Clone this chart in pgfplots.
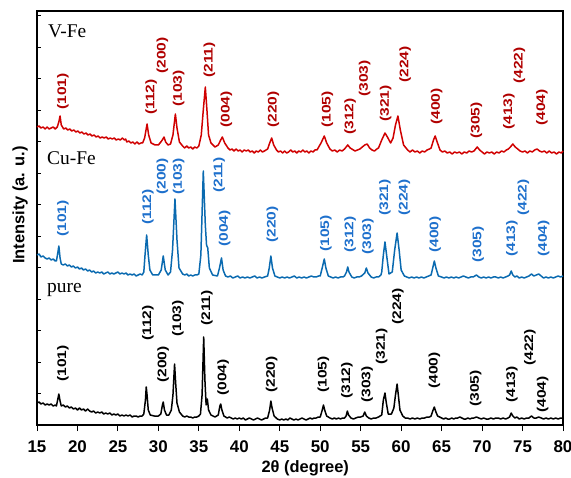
\documentclass[border=0pt]{standalone}
\usepackage{fontspec}
\setmainfont{Liberation Sans}
\newfontfamily\serif{Liberation Serif}
\usepackage{graphicx}
\usepackage{pgfplots}
\pgfplotsset{compat=1.18}

\definecolor{vfe}{HTML}{D00000}
\definecolor{vfetext}{HTML}{B00000}
\definecolor{cufe}{HTML}{0A6AB0}
\definecolor{cufetext}{HTML}{1E70CC}

\tikzset{pk/.style={rotate=90, anchor=west, inner sep=0pt,
    font=\bfseries\fontsize{12.5}{12.5}\selectfont}}
% peak label: colour, 2theta, bottom of text, hkl
\newcommand{\pk}[4]{\node[pk,text=#1] at (axis cs:#2,#3) {\scalebox{1.25}[1]{#4}};}

\begin{document}
\begin{tikzpicture}
\begin{axis}[
  scale only axis,
  width=526bp, height=414bp,
  xmin=15, xmax=80, ymin=0, ymax=414,
  xtick={15,20,...,80}, ytick=\empty,
  xtick pos=bottom,
  tick align=outside,
  major tick length=6bp,
  xtick style={line width=1bp, black},
  axis line style={line width=1.2bp},
  /pgf/number format/assume math mode=true,
  ticklabel style={font=\bfseries\fontsize{17}{17}\selectfont},
  xticklabel style={yshift=-6bp},
  xlabel={2θ (degree)},
  ylabel={Intensity (a. u.)},
  label style={font=\bfseries\fontsize{16.5}{16.5}\selectfont},
  xlabel style={at={(axis description cs:0.51,-0.105)}, anchor=center},
  ylabel style={at={(axis description cs:-0.0323,0.531)}, anchor=center},
  every axis plot/.append style={line width=1.5bp, line join=round},
  clip=false,
]
% pure
\addplot[black] coordinates {
(15,22)(15.25,23)(15.5,21)(15.75,22)(16,20)(16.25,21)(16.5,20)(16.75,21)(17,19)(17.25,20)(17.4,19)
(17.6,27)(17.7,31)(17.85,24)
(18,19)(18.25,20)(18.5,18)(18.75,19)(19,17)(19.25,18)(19.5,16)(19.75,17)(20,15)(20.25,17)(20.5,15)(20.75,16)(21,14)(21.25,16)(21.5,14)(21.75,13)(22,14)(22.25,12)(22.5,13)(22.75,12)(23,13)(23.25,11)(23.5,12)(23.75,11)(24,12)(24.25,10)(24.5,11)(24.75,10)(25,11)(25.25,9)(25.5,10)(25.75,9)(26,10)(26.25,9)(26.5,10)(26.75,8)(27,9)(27.25,9)(27.5,8)(27.75,9)(28,9)
(28.2,11)(28.4,25)(28.5,38)(28.6,30)(28.75,15)(29,10)(29.5,9)(30,9)(30.3,11)(30.5,20)(30.6,23)(30.75,15)(31,10)(31.3,10)(31.6,15)(31.8,30)(32,61)(32.15,40)(32.3,22)(32.6,13)
(33,9)(33.25,8)(33.5,9)(33.75,8)(34,8)(34.25,7)(34.5,8)(34.75,8)(35,9)
(35.2,11)(35.4,30)(35.6,88)(35.75,45)(35.9,20)(36.05,26)(36.2,15)(36.5,10)(37,8)(37.4,10)(37.6,19)(37.7,21)(37.85,15)(38.1,9)
(38.5,7)(38.75,8)(39,7)(39.25,6)(39.5,7)(39.75,6)(40,7)(40.25,6)(40.5,7)(40.75,5)(41,6)(41.25,7)(41.5,6)(41.75,5)(42,6)(42.25,7)(42.5,6)(42.75,5)(43,6)(43.25,7)(43.5,7)
(43.75,15)(43.9,24)(44.05,17)(44.3,9)
(44.7,6)(45,5)(45.25,6)(45.5,5)(45.75,6)(46,5)(46.25,7)(46.5,6)(46.75,5)(47,6)(47.25,5)(47.5,6)(47.75,7)(48,6)(48.25,5)(48.5,6)(48.75,7)(49,6)(49.25,7)(49.5,7)(49.75,8)(50,8)
(50.25,15)(50.4,20)(50.55,15)(50.8,9)
(51.2,7)(51.5,6)(51.75,7)(52,6)(52.25,7)(52.5,6)(52.75,7)(53,7)
(53.2,9)(53.35,14)(53.5,10)(53.8,7)(54.1,6)(54.4,7)(54.7,8)(55,8)(55.3,9)(55.5,13)(55.7,9)
(56,7)(56.3,6)(56.6,7)(56.9,7)(57.2,8)(57.6,10)
(57.8,25)(58,32)(58.15,23)(58.4,11)(58.8,11)(59.1,17)(59.3,30)(59.5,41)(59.65,30)(59.85,15)
(60.2,9)(60.5,7)(60.8,7)(61.1,6)(61.4,7)(61.7,6)(62,7)(62.3,6)(62.6,7)(62.9,7)(63.2,8)(63.5,8)(63.7,9)
(63.95,15)(64.1,18)(64.25,14)(64.5,9)
(65,7)(65.25,6)(65.5,7)(65.75,6)(66,6)(66.25,7)(66.5,6)(66.75,7)(67,7)(67.25,8)(67.5,7)(67.75,6)(68,6)(68.25,7)(68.5,6)(68.75,7)(69,7)(69.3,8)(69.6,7)(69.9,6)(70.2,7)(70.5,6)(70.8,6)(71.1,7)(71.4,6)(71.7,7)(72,7)(72.3,6)(72.6,7)(72.9,6)(73.2,7)(73.4,8)(73.6,12)(73.8,9)(74.05,7)(74.3,8)(74.6,6)(74.9,7)(75.2,6)(75.5,7)(75.8,7)(76.1,9)(76.4,7)(76.7,7)(77,8)(77.3,7)(77.6,6)(77.9,7)(78.2,6)(78.5,7)(78.8,6)(79.1,7)(79.4,6)(79.7,7)(80,7)
};
% Cu-Fe
\addplot[cufe] coordinates {
(15,170)(15.25,171)(15.5,168)(15.75,169)(16,167)(16.25,166)(16.5,167)(16.75,165)(17,166)(17.25,164)(17.4,164)
(17.55,171)(17.7,179)(17.85,167)
(18,161)(18.25,160)(18.5,161)(18.75,159)(19,160)(19.25,158)(19.5,159)(19.75,157)(20,158)(20.25,156)(20.5,157)(20.75,155)(21,156)(21.25,154)(21.5,155)(21.75,153)(22,154)(22.25,152)(22.5,153)(22.75,152)(23,153)(23.25,151)(23.5,152)(23.75,153)(24,151)(24.25,152)(24.5,151)(24.75,152)(25,153)(25.25,151)(25.5,152)(25.75,151)(26,152)(26.25,150)(26.5,151)(26.75,150)(27,151)(27.25,149)(27.5,150)(27.75,151)(28,150)
(28.2,153)(28.35,170)(28.55,190)(28.75,170)(28.95,155)(29.3,150)(30,150)(30.35,155)(30.6,169)(30.85,155)(31.2,150)(31.5,153)(31.75,175)(32.05,226)(32.3,185)(32.55,157)
(33,151)(33.25,150)(33.5,151)(33.75,149)(34,150)(34.25,149)(34.5,150)(34.75,150)(35,151)
(35.25,170)(35.55,254)(35.8,200)(35.95,180)(36.1,177)(36.3,157)(36.7,150)(37.3,149)(37.55,157)(37.8,167)(38,155)
(38.3,149)(38.6,148)(38.9,149)(39.2,147)(39.5,148)(39.8,149)(40.1,147)(40.4,148)(40.7,147)(41,148)(41.3,147)(41.6,148)(41.9,149)(42.2,147)(42.5,148)(42.8,147)(43.1,148)(43.5,149)
(43.7,157)(43.9,169)(44.1,157)
(44.4,149)(44.7,148)(45,147)(45.3,148)(45.6,147)(45.9,148)(46.2,147)(46.5,148)(46.8,149)(47.1,147)(47.4,148)(47.7,147)(48,148)(48.3,147)(48.6,148)(48.9,149)(49.2,148)(49.5,148)(49.8,149)(50,149)
(50.3,159)(50.5,166)(50.7,157)
(51,149)(51.3,148)(51.6,147)(51.9,148)(52.2,147)(52.5,148)(52.8,148)(53,149)
(53.25,153)(53.4,158)(53.55,153)
(53.9,148)(54.2,147)(54.5,148)(54.8,148)(55.1,149)
(55.5,152)(55.7,157)(55.9,152)
(56.3,148)(56.6,147)(56.9,148)(57.2,148)(57.5,150)
(57.6,153)(57.8,170)(58,183)(58.2,170)(58.5,151)(58.9,153)(59.2,175)(59.5,192)(59.75,175)(60,155)
(60.4,149)(60.7,148)(61,147)(61.3,148)(61.6,147)(61.9,148)(62.2,147)(62.5,148)(62.8,147)(63.1,148)(63.4,149)(63.7,150)
(63.9,157)(64.1,164)(64.3,157)(64.6,149)
(65,148)(65.3,147)(65.6,148)(65.9,147)(66.2,148)(66.5,147)(66.8,148)(67.1,147)(67.4,148)(67.7,149)(68,148)(68.3,147)(68.6,148)(68.9,148)(69.3,150)(69.6,148)(69.9,147)(70.2,148)(70.5,147)(70.8,148)(71.1,147)(71.4,148)(71.7,148)(72,147)(72.3,148)(72.6,147)(72.9,148)(73.2,149)(73.4,150)(73.6,154)(73.8,150)(74.05,148)(74.3,149)(74.6,147)(74.9,148)(75.2,147)(75.5,148)(75.8,149)(76.1,151)(76.4,149)(76.7,150)(77,151)(77.3,149)(77.6,147)(77.9,148)(78.2,147)(78.5,148)(78.8,147)(79.1,148)(79.4,149)(79.7,148)(80,149)
};
% V-Fe
\addplot[vfe] coordinates {
(15,298)(15.25,299)(15.5,297)(15.75,298)(16,296)(16.25,298)(16.5,296)(16.75,297)(17,298)(17.25,296)(17.5,298)
(17.7,303)(17.85,309)(18,300)
(18.3,296)(18.55,297)(18.8,295)(19.05,296)(19.3,294)(19.55,295)(19.8,293)(20.05,294)(20.3,292)(20.55,293)(20.8,291)(21.05,292)(21.3,290)(21.55,291)(21.8,289)(22.05,290)(22.3,288)(22.55,289)(22.8,287)(23.05,288)(23.3,287)(23.55,288)(23.8,286)(24.05,287)(24.3,286)(24.55,287)(24.8,285)(25.05,286)(25.3,285)(25.55,287)(25.8,285)(25.95,286)(26.1,283)(26.35,284)(26.6,282)(26.85,283)(27.1,281)(27.35,283)(27.6,281)(27.85,282)(28.05,282)
(28.3,287)(28.6,301)(28.8,290)(29.1,282)(29.6,280)(30,280)(30.4,284)(30.7,288)(30.9,283)(31.2,280)(31.5,281)(31.8,290)(32.1,311)(32.3,297)(32.6,283)
(33,279)(33.25,277)(33.5,279)(33.75,277)(34,278)(34.25,276)(34.5,278)(34.75,277)(35,279)
(35.3,290)(35.55,315)(35.8,338)(36,315)(36.2,290)(36.5,282)(37,278)(37.4,280)(37.7,285)(37.9,288)(38.2,282)
(38.6,277)(38.85,275)(39.1,276)(39.35,274)(39.6,276)(39.85,274)(40.1,275)(40.35,273)(40.6,275)(40.85,274)(41.1,275)(41.35,273)(41.6,274)(41.85,272)(42.1,274)(42.35,273)(42.6,275)(42.85,273)(43.1,274)(43.5,276)
(43.8,283)(44,287)(44.25,280)
(44.6,275)(44.85,273)(45.1,274)(45.35,272)(45.6,274)(45.85,272)(46.1,273)(46.35,275)(46.6,273)(46.85,274)(47.1,272)(47.35,274)(47.6,273)(47.85,275)(48.1,273)(48.35,274)(48.6,272)(48.85,274)(49.1,273)(49.35,275)(49.6,275)
(50.1,282)(50.5,289)(50.8,282)
(51.2,276)(51.5,274)(51.8,275)(52.1,273)(52.4,275)(52.7,274)(53,276)
(53.2,278)(53.4,280)(53.7,277)
(54.3,274)(54.6,275)(54.9,276)
(55.5,280)(55.8,281)(56.1,277)(56.4,275)(56.7,274)(57,276)(57.2,277)
(57.6,285)(58,292)(58.3,288)(58.7,282)(59,287)(59.3,300)(59.6,309)(59.9,295)(60.3,280)
(60.8,275)(61.1,273)(61.4,275)(61.7,273)(62,274)(62.3,272)(62.6,274)(62.9,273)(63.2,275)(63.5,276)(63.7,277)
(64,285)(64.2,289)(64.45,283)
(64.8,275)(65.1,273)(65.4,274)(65.7,272)(66,273)(66.3,271)(66.6,273)(66.9,272)(67.2,273)(67.5,271)(67.8,273)(68.1,272)(68.4,274)(68.7,273)(69,274)(69.4,278)(69.7,275)(70,273)(70.3,271)(70.6,273)(70.9,272)(71.2,273)(71.5,271)(71.8,273)(72.1,272)(72.4,274)(72.7,273)(73,275)(73.25,276)(73.5,278)(73.8,281)(74.1,278)(74.4,276)(74.7,274)(75,273)(75.3,274)(75.6,272)(75.9,274)(76.2,273)(76.5,275)(76.8,276)(77.1,274)(77.4,273)(77.7,274)(78,272)(78.3,274)(78.6,272)(78.9,273)(79.2,271)(79.5,273)(79.8,272)(80,274)
};

% peak labels, pure
\pk{black}{18.2}{43}{(101)}
\pk{black}{28.7}{84}{(112)}
\pk{black}{30.6}{42}{(200)}
\pk{black}{32.4}{88}{(103)}
\pk{black}{36.0}{99}{(211)}
\pk{black}{38.0}{29}{(004)}
\pk{black}{44.0}{32}{(220)}
\pk{black}{50.4}{32}{(105)}
\pk{black}{53.3}{26}{(312)}
\pk{black}{55.8}{22}{(303)}
\pk{black}{57.6}{60}{(321)}
\pk{black}{59.6}{100}{(224)}
\pk{black}{64.1}{36}{(400)}
\pk{black}{69.2}{18}{(305)}
\pk{black}{73.7}{22}{(413)}
\pk{black}{75.9}{59}{(422)}
\pk{black}{77.5}{12}{(404)}
% peak labels, Cu-Fe
\pk{cufetext}{18.2}{188}{(101)}
\pk{cufetext}{28.7}{200}{(112)}
\pk{cufetext}{30.5}{230}{(200)}
\pk{cufetext}{32.5}{230}{(103)}
\pk{cufetext}{37.5}{232}{(211)}
\pk{cufetext}{38.2}{178}{(004)}
\pk{cufetext}{44.1}{182}{(220)}
\pk{cufetext}{50.7}{173}{(105)}
\pk{cufetext}{53.7}{172}{(312)}
\pk{cufetext}{55.9}{170}{(303)}
\pk{cufetext}{58.0}{209}{(321)}
\pk{cufetext}{60.4}{209}{(224)}
\pk{cufetext}{64.2}{172}{(400)}
\pk{cufetext}{69.5}{162}{(305)}
\pk{cufetext}{73.7}{168}{(413)}
\pk{cufetext}{75.1}{209}{(422)}
\pk{cufetext}{77.6}{168}{(404)}
% peak labels, V-Fe
\pk{vfetext}{18.2}{315}{(101)}
\pk{vfetext}{29.1}{310}{(112)}
\pk{vfetext}{30.5}{351}{(200)}
\pk{vfetext}{32.5}{318}{(103)}
\pk{vfetext}{36.3}{347}{(211)}
\pk{vfetext}{38.4}{297}{(004)}
\pk{vfetext}{44.2}{297}{(220)}
\pk{vfetext}{50.9}{297}{(105)}
\pk{vfetext}{53.7}{290}{(312)}
\pk{vfetext}{55.5}{328}{(303)}
\pk{vfetext}{58.1}{303}{(321)}
\pk{vfetext}{60.5}{342}{(224)}
\pk{vfetext}{64.4}{300}{(400)}
\pk{vfetext}{69.3}{286}{(305)}
\pk{vfetext}{73.3}{295}{(413)}
\pk{vfetext}{74.6}{341}{(422)}
\pk{vfetext}{77.4}{299}{(404)}
\end{axis}

% inward y ticks (no labels)
\foreach \y in {31.5,63,...,409.5}
  \draw[line width=0.9bp] (0,\y bp) -- (3.5bp,\y bp);

% sample names
\begin{scope}[every node/.style={anchor=base west, inner sep=0pt,
    font=\serif\fontsize{19.5}{19.5}\selectfont}]
  \node at (11bp,387bp) {V-Fe};
  \node at (10bp,260bp) {Cu-Fe};
  \node at (10bp,132bp) {pure};
\end{scope}

\pgfresetboundingbox
\path[use as bounding box] (-37bp,-53bp) rectangle (534bp,425bp);
\end{tikzpicture}
\end{document}
